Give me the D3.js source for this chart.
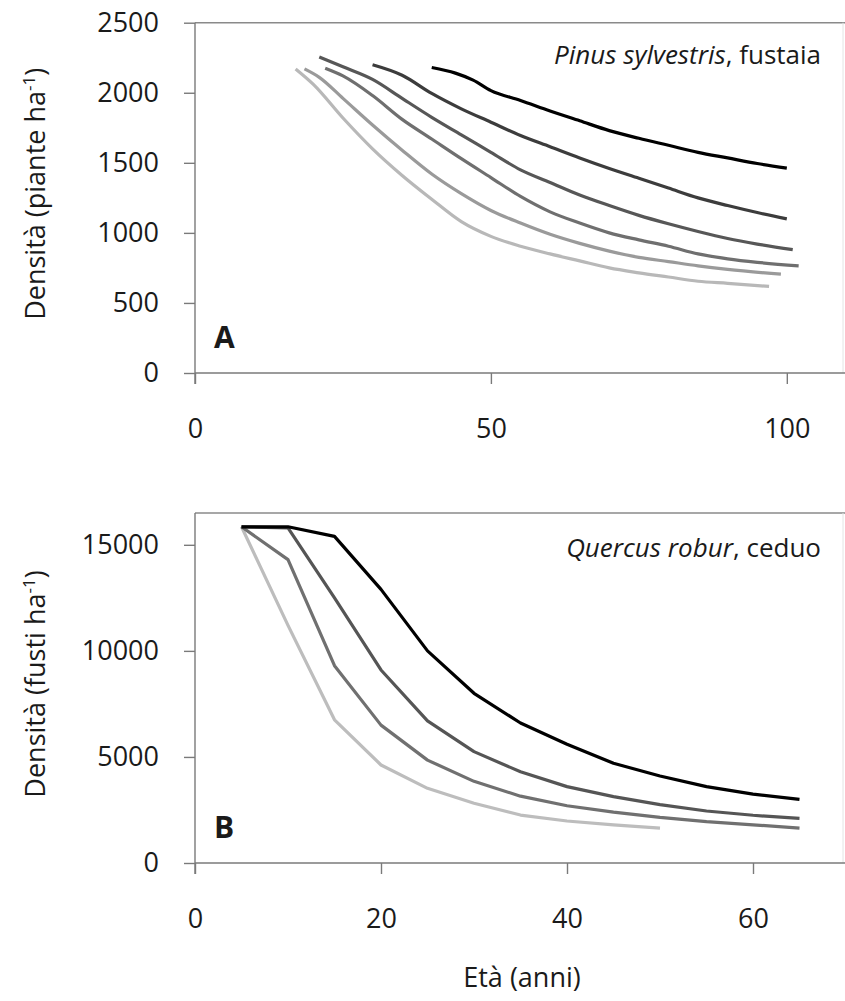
<!DOCTYPE html>
<html>
<head>
<meta charset="utf-8">
<script src="https://cdn.jsdelivr.net/npm/d3@7"></script>
<style>
	body { margin: 0; background: #fff; }
	svg text { font-family: 'Open Sans', 'Lato', sans-serif; fill: #1a1a1a; }
	.axis path, .axis line { stroke: #7a7a7a; stroke-width: 1.4; }
	.axis text { font-size: 27px; }
</style>
</head>
<body>
<div id="chart"></div>
<script>
/* global d3 */

// Panel A: Pinus sylvestris, fustaia — [età, piante/ha]
const pinus1 = [[40, 2180], [44, 2140], [47, 2090], [50, 2015], [55, 1945], [60, 1870], [65, 1800], [70, 1730], [75, 1675], [80, 1625], [85, 1575], [90, 1535], [95, 1495], [100, 1462]];
const pinus2 = [[30, 2200], [35, 2125], [40, 1995], [45, 1885], [50, 1790], [55, 1695], [60, 1615], [65, 1535], [70, 1460], [75, 1390], [80, 1320], [85, 1250], [90, 1195], [95, 1145], [100, 1100]];
const pinus3 = [[21, 2255], [25, 2185], [30, 2095], [35, 1960], [40, 1825], [45, 1700], [50, 1575], [55, 1450], [60, 1360], [65, 1270], [70, 1195], [75, 1125], [80, 1065], [85, 1010], [90, 960], [95, 920], [101, 880]];
const pinus4 = [[22, 2175], [25, 2120], [30, 1980], [35, 1810], [40, 1670], [45, 1530], [50, 1395], [55, 1260], [60, 1150], [65, 1070], [70, 1000], [75, 950], [80, 905], [85, 850], [90, 815], [95, 790], [102, 765]];
const pinus5 = [[18.5, 2170], [21, 2110], [25, 1960], [30, 1770], [35, 1590], [40, 1420], [45, 1280], [50, 1160], [55, 1070], [60, 990], [65, 925], [70, 870], [75, 825], [80, 795], [85, 765], [90, 740], [99, 705]];
const pinus6 = [[17, 2170], [20, 2060], [25, 1820], [30, 1600], [35, 1410], [40, 1240], [45, 1080], [50, 975], [55, 905], [60, 850], [65, 800], [70, 750], [75, 715], [80, 685], [85, 655], [90, 640], [97, 618]];

// Panel B: Quercus robur, ceduo — [età, fusti/ha]
const quercus1 = [[5, 15850], [10, 15850], [15, 15400], [20, 12900], [25, 10000], [30, 8000], [35, 6600], [40, 5600], [45, 4700], [50, 4100], [55, 3600], [60, 3250], [65, 3000]];
const quercus2 = [[5, 15850], [10, 15800], [15, 12500], [20, 9100], [25, 6700], [30, 5250], [35, 4300], [40, 3600], [45, 3130], [50, 2750], [55, 2450], [60, 2250], [65, 2100]];
const quercus3 = [[5, 15850], [10, 14300], [15, 9300], [20, 6500], [25, 4850], [30, 3850], [35, 3150], [40, 2700], [45, 2400], [50, 2150], [55, 1950], [60, 1800], [65, 1640]];
const quercus4 = [[5, 15850], [10, 11200], [15, 6750], [20, 4620], [25, 3520], [30, 2820], [35, 2260], [40, 1980], [45, 1800], [50, 1640]];

const pinusColors = ['#000000', '#3c3c3c', '#575757', '#6f6f6f', '#9a9a9a', '#b8b8b8'];
const quercusColors = ['#000000', '#555555', '#707070', '#bdbdbd'];

const pinusXTicks = [0, 50, 100];
const pinusYTicks = [0, 500, 1000, 1500, 2000, 2500];
const quercusXTicks = [0, 20, 40, 60];
const quercusYTicks = [0, 5000, 10000, 15000];

const width = 845;
const height = 1001;

const svg = d3.select('#chart').append('svg')
	.attr('width', width)
	.attr('height', height);

function drawPanel(cfg) {
	const x = d3.scaleLinear()
		.domain(cfg.xDomain)
		.range([195, 846]);

	const y = d3.scaleLinear()
		.domain(cfg.yDomain)
		.range([cfg.bottom, cfg.top]);

	const g = svg.append('g');

	// plot area frame (top + faint right edge)
	g.append('line')
		.attr('x1', x(cfg.xDomain[0]))
		.attr('x2', 845)
		.attr('y1', cfg.top)
		.attr('y2', cfg.top)
		.attr('stroke', '#8a8a8a')
		.attr('stroke-width', 1.4);

	g.append('line')
		.attr('x1', 843)
		.attr('x2', 843)
		.attr('y1', cfg.top)
		.attr('y2', cfg.bottom)
		.attr('stroke', '#e4e4e4')
		.attr('stroke-width', 1);

	const xAxis = g.append('g')
		.attr('class', 'axis')
		.attr('transform', `translate(0,${cfg.bottom})`)
		.call(d3.axisBottom(x).tickValues(cfg.xTicks).tickFormat(d3.format('d'))
			.tickSize(11).tickSizeOuter(0).tickPadding(35));
	xAxis.select('.domain').attr('d', `M${x(cfg.xDomain[0])},0H845`);

	const yAxis = g.append('g')
		.attr('class', 'axis')
		.attr('transform', `translate(${x(cfg.xDomain[0])},0)`)
		.call(d3.axisLeft(y).tickValues(cfg.yTicks).tickFormat(d3.format('d'))
			.tickSize(11).tickSizeOuter(0).tickPadding(25));
	yAxis.select('.domain').attr('d', `M0,${cfg.top}V${cfg.bottom + 11}`);

	g.selectAll('.axis text').attr('fill', '#1a1a1a');

	const line = d3.line()
		.x(d => x(d[0]))
		.y(d => y(d[1]))
		.curve(cfg.curve);

	g.selectAll('path.series')
		.data(cfg.series)
		.enter().append('path')
		.attr('class', 'series')
		.attr('fill', 'none')
		.attr('stroke', (d, i) => cfg.colors[i])
		.attr('stroke-width', 3.2)
		.attr('stroke-linejoin', 'round')
		.attr('d', line)
		.lower();

	// species label, top right
	const species = g.append('text')
		.attr('x', 821)
		.attr('y', cfg.speciesY)
		.attr('text-anchor', 'end')
		.style('font-size', '26px');
	species.append('tspan')
		.style('font-style', 'italic')
		.text(cfg.speciesName);
	species.append('tspan')
		.text(cfg.speciesRest);

	// panel letter
	g.append('text')
		.attr('x', 214)
		.attr('y', cfg.letterY)
		.style('font-size', '30px')
		.style('font-weight', 'bold')
		.text(cfg.letter);

	// y axis title
	const cy = (cfg.top + cfg.bottom) / 2 - 4;
	const title = g.append('text')
		.attr('transform', `translate(45,${cy}) rotate(-90)`)
		.attr('text-anchor', 'middle')
		.style('font-size', '27px');
	title.append('tspan').text(cfg.yTitle);
	title.append('tspan')
		.attr('dy', -10)
		.style('font-size', '17px')
		.text('-1');
	title.append('tspan')
		.attr('dy', 10)
		.text(')');
}

drawPanel({
	xDomain: [0, 110],
	yDomain: [0, 2500],
	top: 22.7,
	bottom: 373,
	xTicks: pinusXTicks,
	yTicks: pinusYTicks,
	series: [pinus1, pinus2, pinus3, pinus4, pinus5, pinus6],
	colors: pinusColors,
	curve: d3.curveMonotoneX,
	speciesName: 'Pinus sylvestris',
	speciesRest: ', fustaia',
	speciesY: 64,
	letter: 'A',
	letterY: 348,
	yTitle: 'Densità (piante ha',
});

drawPanel({
	xDomain: [0, 70],
	yDomain: [0, 16500],
	top: 513,
	bottom: 863,
	xTicks: quercusXTicks,
	yTicks: quercusYTicks,
	series: [quercus1, quercus2, quercus3, quercus4],
	colors: quercusColors,
	curve: d3.curveLinear,
	speciesName: 'Quercus robur',
	speciesRest: ', ceduo',
	speciesY: 557,
	letter: 'B',
	letterY: 838,
	yTitle: 'Densità (fusti ha',
});

svg.append('text')
	.attr('x', 522)
	.attr('y', 987)
	.attr('text-anchor', 'middle')
	.style('font-size', '27px')
	.text('Età (anni)');
</script>
</body>
</html>
